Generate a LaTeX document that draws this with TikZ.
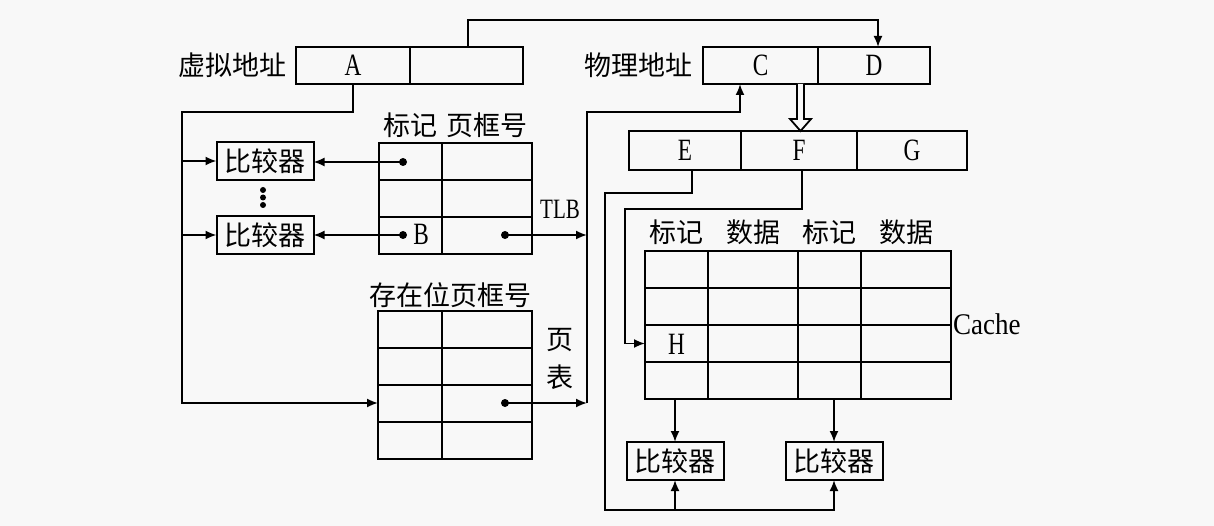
\documentclass[tikz,border=0pt]{standalone}
\usepackage{fontspec}
\newfontfamily\cjk{Noto Sans CJK SC}
\newfontfamily\latin[FakeStretch=0.75]{Liberation Serif}
\newfontfamily\latinw[FakeStretch=0.9]{Liberation Serif}
\usetikzlibrary{arrows.meta}
\definecolor{bg}{RGB}{248,248,248}
\newcommand{\cjkf}{\cjk\fontsize{27}{30}\selectfont}
\newcommand{\latf}{\latin\fontsize{31}{34}\selectfont}
\newcommand{\latsf}{\latin\fontsize{28}{31}\selectfont}
\newcommand{\latwf}{\latinw\fontsize{30}{33}\selectfont}
\tikzset{
 ln/.style={line width=1.8pt, line join=miter},
 arr/.style={ln, -{Latex[length=11pt,width=9pt]}},
 cell/.style={draw, line width=1.8pt, inner sep=0pt, outer sep=0pt, font=\latf},
 cmpbox/.style={draw, line width=2pt, inner sep=0pt, outer sep=0pt, minimum width=97pt, minimum height=38pt, font=\cjkf},
 cjklab/.style={font=\cjkf, inner sep=0pt},
 latlab/.style={font=\latf, inner sep=0pt},
 dot/.style={circle, fill, inner sep=0pt, minimum size=8pt},
}
\begin{document}
\begin{tikzpicture}[x=1pt,y=-1pt]
\fill[bg] (0,0) rectangle (1214,526);
\useasboundingbox (0,0) rectangle (1214,526);

% virtual address
\node[cell, minimum width=114pt, minimum height=37pt] (A) at (353,65.5) {A};
\node[cell, minimum width=113pt, minimum height=37pt, anchor=west] (A2) at (A.east) {};
\node[cjklab, anchor=east] (vlab) at ([xshift=-9pt]A.west) {虚拟地址};

% physical address
\node[cell, minimum width=115pt, minimum height=37pt] (C) at (760.5,65.5) {C};
\node[cell, minimum width=112pt, minimum height=37pt, anchor=west] (D) at (C.east) {D};
\node[cjklab, anchor=east] (plab) at ([xshift=-10pt]C.west) {物理地址};

% E F G
\node[cell, minimum width=112pt, minimum height=39pt] (E) at (685,150.5) {E};
\node[cell, minimum width=116pt, minimum height=39pt, anchor=west] (F) at (E.east) {F};
\node[cell, minimum width=110pt, minimum height=39pt, anchor=west] (G) at (F.east) {G};

% hollow arrow
\draw[ln, fill=bg] (797,84) -- (797,119) -- (790,119) -- (800.5,131) -- (811,119) -- (804,119) -- (804,84);

% top connector
\draw[arr] ([xshift=1.5pt]A2.north) -- ++(0,-27) -| ([xshift=4pt]D.north);

% comparators (TLB)
\node[cmpbox] (cmp1) at (265,161) {比较器};
\node[cmpbox] (cmp2) at (265,235) {比较器};
\foreach \yy [count=\i] in {190,197.5,205} \node[dot, minimum size=6pt] (vd\i) at (263,\yy) {};

% TLB table
\foreach \r in {1,2,3} {
  \node[cell, minimum width=63pt, minimum height=37pt, anchor=north west] (tlb-\r-1) at (379,{143+(\r-1)*37}) {};
  \node[cell, minimum width=90pt, minimum height=37pt, anchor=west] (tlb-\r-2) at (tlb-\r-1.east) {};
}
\node[cjklab] (th1) at (tlb-1-1.north |- 0,125) {标记};
\node[cjklab] (th2) at (tlb-1-2.north |- 0,125) {页框号};
\node[dot] (d1) at (403,162) {};
\node[dot] (d2) at (403,235) {};
\node[latlab] (Bl) at (421,234) {B};
\node[dot] (d3) at (505,235) {};
\node[latlab, font=\latsf] (tlbl) at (560,209) {TLB};
\draw[arr] (d1.center) -- (d1 -| cmp1.east);
\draw[arr] (d2.center) -- (d2 -| cmp2.east);

% page table
\foreach \r in {1,...,4} {
  \node[cell, minimum width=64pt, minimum height=37pt, anchor=north west] (pt-\r-1) at (378,{311+(\r-1)*37}) {};
  \node[cell, minimum width=90pt, minimum height=37pt, anchor=west] (pt-\r-2) at (pt-\r-1.east) {};
}
\node[cjklab] (pth) at (450,295) {存在位页框号};
\node[dot] (d4) at (505,403) {};
\node[cjklab] (ye) at (560,340) {页};
\node[cjklab] (biao) at (560,377) {表};

% right connector to C
\coordinate (R0) at (587,112);
\coordinate (R1) at (587,403);
\draw[arr] (d3.center) -- (d3 -| R0);
\draw[arr] (d4.center) -- (d4 -| R1);
\draw[arr] (R1) -- (R0) -| ([xshift=-20.5pt]C.south);

% left connector from A
\coordinate (L0) at (182,112);
\coordinate (L1) at (182,403);
\draw[arr] (A.south) |- (L0) -- (L1) -- (L1 -| pt-3-1.west);
\draw[arr] (L0 |- cmp1.west) -- (cmp1.west);
\draw[arr] (L0 |- cmp2.west) -- (cmp2.west);

% cache
\foreach \r in {1,...,4} {
  \foreach \c/\x/\w in {1/645/63, 2/708/90, 3/798/63, 4/861/90} {
    \node[cell, minimum width=\w pt, minimum height=37pt, anchor=north west] (ca-\r-\c) at (\x,{251+(\r-1)*37}) {};
  }
}
\node[cjklab] (ch1) at (ca-1-1.north |- 0,232) {标记};
\node[cjklab] (ch2) at (ca-1-2.north |- 0,232) {数据};
\node[cjklab] (ch3) at (ca-1-3.north |- 0,232) {标记};
\node[cjklab] (ch4) at (ca-1-4.north |- 0,232) {数据};
\node[latlab] (H) at ([yshift=-1pt]ca-3-1) {H};
\node[latlab, font=\latwf, anchor=west] (cachel) at (953,324) {Cache};

% cache comparators
\node[cmpbox] (cmp3) at (675,461) {比较器};
\node[cmpbox] (cmp4) at (834,461) {比较器};
\draw[arr] (ca-4-1.south -| cmp3.north) -- (cmp3.north);
\draw[arr] (ca-4-3.south -| cmp4.north) -- (cmp4.north);

% E and F connectors
\coordinate (B0) at (605,510);
\draw[arr] ([xshift=7pt]E.south) |- (B0 |- 0,193) -- (B0) -| (cmp4.south);
\draw[arr] (cmp3.south |- B0) -- (cmp3.south);
\draw[arr] ([xshift=3pt]F.south) |- (625,209) |- (ca-3-1.west);
\end{tikzpicture}
\end{document}
